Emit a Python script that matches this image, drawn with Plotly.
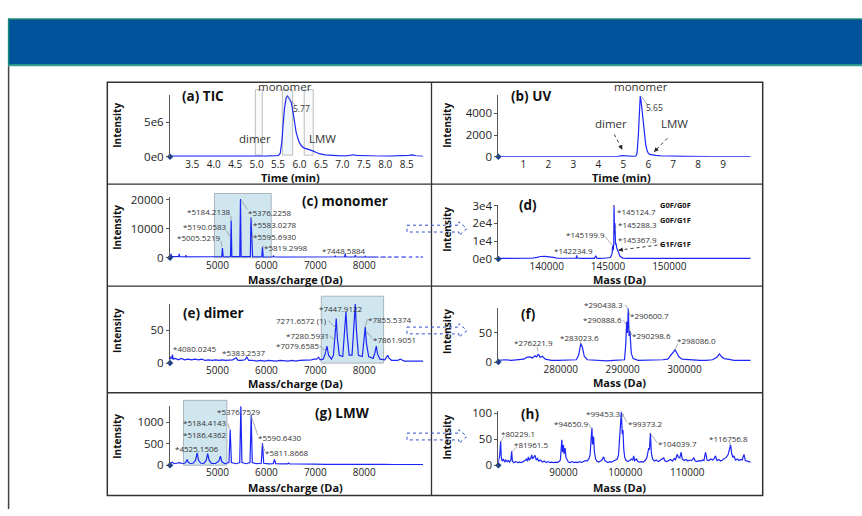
import plotly.graph_objects as go

W, H = 862, 516

# ---------------- data ----------------
# (a) TIC chromatogram: time (min), intensity
tic_time = [2.98, 3.2, 3.5, 3.8, 4.1, 4.4, 4.7, 5.0, 5.2, 5.4, 5.5, 5.55, 5.59, 5.62, 5.65, 5.69,
            5.72, 5.76, 5.81, 5.85, 5.88, 5.92, 5.96, 6.0, 6.05, 6.11, 6.19, 6.26, 6.31, 6.38,
            6.46, 6.6, 6.77, 6.95, 7.1, 7.18, 7.25, 7.32, 7.5, 7.8, 8.1, 8.4, 8.55, 8.63, 8.72, 8.88]
tic_intensity = [1.0e5, 0.9e5, 0.7e5, 0.7e5, 0.6e5, 0.7e5, 0.8e5, 1.0e5, 1.0e5, 1.2e5, 1.8e5, 0.5e6,
                 2.2e6, 4.8e6, 7.0e6, 8.5e6, 8.75e6, 8.4e6, 7.8e6, 6.4e6, 5.0e6, 3.6e6, 2.7e6, 2.0e6,
                 1.55e6, 1.25e6, 1.1e6, 1.0e6, 0.85e6, 0.65e6, 0.45e6, 0.28e6, 0.18e6, 0.14e6,
                 0.15e6, 0.25e6, 0.3e6, 0.2e6, 0.14e6, 0.12e6, 0.1e6, 0.12e6, 0.2e6, 0.28e6, 0.15e6, 0.08e6]

# (b) UV chromatogram
uv_time = [0.0, 0.5, 1.0, 1.5, 2.0, 2.5, 3.0, 3.5, 4.0, 4.5, 4.8, 4.95, 5.05, 5.2, 5.4, 5.5, 5.55,
           5.6, 5.64, 5.68, 5.72, 5.76, 5.8, 5.85, 5.9, 5.95, 6.0, 6.06, 6.15, 6.3, 6.5, 6.8, 7.5,
           8.5, 9.2, 9.4, 9.5, 9.8, 10.1]
uv_intensity = [30, 25, 25, 25, 25, 25, 25, 25, 25, 30, 40, 110, 90, 40, 35, 60, 300, 1800, 4300,
                5600, 5000, 4000, 3100, 2000, 1100, 600, 330, 220, 170, 130, 80, 50, 35, 30, 35,
                90, 50, 30, 30]

# (c) monomer m/z spectrum (None = gap in the trace)
mono_mz = [4030, 4045, 4053, 4062, 4120, 4207, 4217, 4227, 4300, 4345, 4354, 4363, 4450, 4550, 4650,
           4750, 4850, 4950, 5040, 5088, 5102, 5116, 5200, 5266, 5280, 5294, 5380, 5456, 5470, 5484,
           5580, 5672, 5685, 5700, 5718, 5800, 5906, 5920, 5934, 6040, 6132, 6145, 6158, 6300, 6450,
           6600, 6750, 6900, 7050, 7395, 7407, 7419, 7500, 7599, 7611, 7623, 7720, 7804, 7816, 7828,
           7930, 8008, 8020, 8032, 8150, 8290, None, 8330, 8440, None, 8480, 8560, None, 8610, 8700,
           None, 8760, 8850, None, 8910, 8980, None, 9050, 9110, None, 9150, 9200]
mono_int = [300, 500, 1300, 400, 350, 400, 1300, 350, 300, 300, 900, 300, 280, 260, 280,
            250, 260, 280, 300, 400, 3300, 400, 300, 400, 12900, 400, 350, 400, 20300, 400,
            350, 400, 13900, 6500, 350, 300, 350, 3800, 300, 250, 250, 600, 250, 220, 220,
            200, 200, 220, 220, 250, 700, 250, 240, 260, 1300, 260, 230, 240, 900, 240,
            220, 220, 500, 220, 200, 200, None, 200, 200, None, 200, 200, None, 200, 200,
            None, 200, 200, None, 200, 200, None, 200, 200, None, 200, 200]

# (d) monomer deconvoluted mass spectrum
mono_mass = [136050, 137000, 138000, 138800, 139200, 139500, 139860, 140200, 140540, 140900, 141500,
             142200, 142400, 142450, 142500, 143000, 143900, 144000, 144100, 144700, 145200, 145330,
             145380, 145430, 145470, 145490, 145530, 145570, 145610, 145650, 145710, 145780, 145850,
             145980, 146200, 146600, 147500, 148500, 149500, 150800, 151280, 151800, 153000, 154500,
             156640]
mono_mass_int = [300, 300, 300, 400, 900, 1400, 1500, 1300, 900, 400, 300, 300, 500, 2000, 400,
                 300, 300, 1800, 300, 400, 800, 3000, 7500, 5000, 9000, 30400, 14000, 20100, 8000,
                 9000, 6200, 5000, 3000, 1500, 500, 300, 300, 300, 300, 400, 600, 400, 300, 300, 300]

# (e) dimer m/z spectrum
dimer_mz = [4030, 4050, 4070, 4080, 4095, 4140, 4200, 4260, 4330, 4400, 4470, 4540, 4610, 4680, 4750,
            4820, 4890, 4960, 5030, 5100, 5170, 5240, 5310, 5383, 5420, 5490, 5560, 5600, 5640, 5720,
            5800, 5880, 5960, 6040, 6120, 6200, 6280, 6360, 6440, 6520, 6600, 6680, 6760, 6840, 6920,
            6980, 7030, 7066, 7100, 7160, 7200, 7237, 7270, 7330, 7370, 7400, 7427, 7450, 7490, 7560,
            7595, 7625, 7650, 7690, 7750, 7785, 7816, 7840, 7880, 7960, 7990, 8020, 8045, 8090, 8180,
            8215, 8245, 8270, 8320, 8420, 8455, 8477, 8500, 8560, 8680, 8715, 8736, 8760, 8820, 8900,
            9000, 9100, 9200]
dimer_int = [6, 9, 7, 13, 6, 7, 5, 7, 5, 6, 5, 6, 5, 6, 4,
             5, 4, 5, 4, 5, 4, 4, 5, 8, 4, 4, 5, 9, 4, 4,
             3, 4, 3, 4, 3, 3, 4, 3, 3, 4, 3, 4, 4, 5, 5,
             6, 6, 9, 5, 6, 14, 26, 12, 6, 12, 40, 68, 38, 12, 10,
             40, 78, 45, 12, 12, 50, 90, 50, 12, 10, 30, 55, 30, 10, 7,
             15, 26, 14, 6, 5, 9, 12, 8, 4, 4, 5, 6, 5, 3, 3,
             3, 3, 3]

# (f) dimer deconvoluted mass spectrum
dimer_mass = [269900, 271000, 272000, 273000, 274000, 274500, 275030, 275400, 275840, 276100, 276380,
              276650, 277000, 277500, 278500, 279500, 280500, 281500, 282500, 282900, 283240, 283500,
              283800, 284300, 285500, 286500, 287500, 288500, 289500, 290300, 290500, 290650, 290780,
              290910, 291050, 291180, 291400, 291700, 292500, 293500, 294500, 295500, 296500, 297300,
              297800, 298200, 298470, 298700, 299100, 299600, 300500, 301500, 302500, 303500, 304500,
              305200, 305650, 306000, 306400, 307000, 308000, 309000, 310700]
dimer_mass_int = [3, 4, 3, 4, 5, 8, 9, 7, 11, 9, 14, 8, 10, 5, 3, 3, 3, 3, 4, 12, 32, 25, 10, 4, 3,
                  3, 2, 3, 3, 4, 30, 69, 50, 92, 45, 53, 15, 6, 3, 3, 3, 3, 4, 5, 12, 16, 21, 17, 9,
                  5, 4, 3, 3, 3, 4, 8, 14, 9, 6, 5, 3, 3, 3]

# (g) LMW m/z spectrum
lmw_mz = [4030, 4080, 4110, 4170, 4230, 4270, 4330, 4360, 4382, 4400, 4440, 4500, 4550, 4586, 4610,
          4660, 4720, 4770, 4800, 4830, 4880, 4960, 5030, 5060, 5090, 5150, 5235, 5260, 5285, 5380,
          5455, 5478, 5500, 5590, 5665, 5689, 5712, 5800, 5895, 5920, 5945, 6050, 6140, 6166, 6190,
          6300, 6430, 6452, 6475, 6600, 6700, 6850, 7000, 7200, 7400, 7600, 7800, 8000, 8200, 8400,
          8600, 8800, 9000, 9200]
lmw_int = [40, 70, 35, 45, 60, 40, 45, 80, 135, 70, 40, 45, 110, 286, 120,
           45, 40, 110, 270, 110, 40, 40, 100, 210, 80, 35, 60, 828, 60, 35,
           60, 1370, 60, 35, 60, 1166, 60, 35, 45, 512, 45, 30, 35, 135, 35,
           30, 30, 50, 28, 28, 30, 26, 25, 22, 24, 20, 22, 20, 18, 18,
           17, 16, 15, 15]

# (h) LMW deconvoluted mass spectrum
lmw_mass = [79470, 79700, 79850, 79950, 80100, 80300, 80500, 80700, 80900, 81100, 81300, 81500, 81630,
            81750, 82000, 82300, 82600, 82900, 83200, 83500, 83800, 84000, 84200, 84330, 84500, 84700,
            84880, 85000, 85200, 85410, 85600, 85800, 86000, 86300, 86600, 86900, 87200, 87500, 87800,
            88100, 88400, 88700, 89000, 89300, 89500, 89650, 89740, 89850, 90000, 90100, 90270, 90400,
            90600, 90800, 91100, 91400, 91700, 92000, 92300, 92600, 92900, 93200, 93500, 93800, 94100,
            94300, 94450, 94600, 94700, 94870, 95000, 95200, 95400, 95700, 96000, 96200, 96490, 96700,
            96900, 97200, 97500, 97800, 98100, 98400, 98700, 98900, 99050, 99190, 99350, 99500, 99620,
            99750, 99900, 100100, 100400, 100700, 101000, 101200, 101350, 101500, 101800, 102000,
            102300, 102600, 102900, 103200, 103500, 103650, 103780, 103900, 104050, 104200, 104400,
            104700, 105000, 105300, 105600, 105900, 106210, 106400, 106700, 107000, 107300, 107600,
            107900, 108100, 108370, 108600, 108800, 109020, 109200, 109500, 109800, 110100, 110400,
            110700, 111060, 111300, 111600, 111900, 112200, 112500, 112700, 112960, 113200, 113500,
            113800, 114100, 114300, 114580, 114800, 115100, 115400, 115700, 116000, 116300, 116600,
            116800, 117010, 117200, 117400, 117550, 117800, 118100, 118400, 118700, 118900, 119170,
            119400, 119700, 120000, 120260]
lmw_mass_int = [5, 20, 46, 15, 8, 12, 6, 10, 7, 9, 6, 10, 27,
                8, 5, 7, 5, 6, 5, 7, 9, 12, 8, 16, 10, 13,
                20, 12, 15, 19, 10, 13, 8, 10, 6, 8, 5, 7, 5,
                6, 5, 6, 5, 7, 10, 30, 49, 25, 39, 22, 33, 15,
                10, 6, 5, 7, 5, 6, 5, 7, 5, 7, 9, 8, 12,
                20, 45, 72, 40, 55, 25, 12, 8, 6, 8, 10, 16, 9,
                7, 5, 7, 6, 8, 10, 12, 20, 45, 80, 103, 60, 68,
                30, 15, 10, 7, 9, 12, 10, 18, 9, 12, 7,
                6, 7, 6, 9, 15, 25, 33, 30, 62, 25, 12,
                8, 10, 7, 9, 12, 14, 8, 7, 9, 11, 8,
                13, 10, 21, 15, 14, 25, 12, 9, 11, 8, 10,
                9, 14, 8, 7, 9, 8, 10, 9, 25, 10, 9,
                12, 10, 12, 18, 9, 11, 8, 10, 12, 15, 20,
                28, 39, 22, 15, 18, 10, 12, 9, 11, 10, 21,
                9, 8, 7, 6]

# shaded fraction windows
tic_windows = [(4.97, 5.13), (5.60, 5.84), (6.11, 6.32)]
mz_windows = {"c": (4939, 6098), "e": (7121, 8395), "g": (4305, 5192)}

# tick values / labels
tick_a_x = [3.5, 4.0, 4.5, 5.0, 5.5, 6.0, 6.5, 7.0, 7.5, 8.0, 8.5]
tick_a_y, text_a_y = [0, 5e6], ["0e0", "5e6"]
tick_b_x = [1, 2, 3, 4, 5, 6, 7, 8, 9]
tick_b_y = [0, 2000, 4000]
tick_mz_x = [5000, 6000, 7000, 8000]
tick_c_y = [0, 10000, 20000]
tick_d_x = [140000, 145000, 150000]
tick_d_y, text_d_y = [0, 1e4, 2e4, 3e4], ["0e0", "1e4", "2e4", "3e4"]
tick_e_y = [0, 50]
tick_f_x = [280000, 290000, 300000]
tick_f_y = [0, 50]
tick_g_y = [0, 500, 1000]
tick_h_x = [90000, 100000, 110000]
tick_h_y = [0, 50, 100]

# ---------------- helpers ----------------
def PX(x):
    return x / W


def PY(y):
    return 1 - y / H


FONT = "Open Sans"
LINE = "rgb(28,38,245)"

panels = [
    dict(x=tic_time, y=tic_intensity, xd=(170, 423), yd=(90, 154), xr=[2.98, 8.88], yr=[0, 8.96e6],
         xt=tick_a_x, xtt=["%.1f" % v for v in tick_a_x], yt=tick_a_y, ytt=text_a_y),
    dict(x=uv_time, y=uv_intensity, xd=(498.3, 750.7), yd=(90, 154), xr=[0, 10.1], yr=[0, 5730],
         xt=tick_b_x, xtt=[str(v) for v in tick_b_x], yt=tick_b_y, ytt=[str(v) for v in tick_b_y]),
    dict(x=mono_mz, y=mono_int, xd=(170, 423), yd=(195, 257.7), xr=[4030, 9200], yr=[0, 21100],
         xt=tick_mz_x, xtt=[str(v) for v in tick_mz_x], yt=tick_c_y, ytt=[str(v) for v in tick_c_y]),
    dict(x=mono_mass, y=mono_mass_int, xd=(498.3, 750.7), yd=(203.3, 259), xr=[136050, 156640],
         yr=[0, 30500], xt=tick_d_x, xtt=[str(v) for v in tick_d_x], yt=tick_d_y, ytt=text_d_y),
    dict(x=dimer_mz, y=dimer_int, xd=(170, 423), yd=(305, 366), xr=[4030, 9200], yr=[0, 90.6],
         xt=tick_mz_x, xtt=[str(v) for v in tick_mz_x], yt=tick_e_y, ytt=[str(v) for v in tick_e_y]),
    dict(x=dimer_mass, y=dimer_mass_int, xd=(498.3, 750.7), yd=(309.3, 365), xr=[269900, 310700],
         yr=[0, 93], xt=tick_f_x, xtt=[str(v) for v in tick_f_x], yt=tick_f_y,
         ytt=[str(v) for v in tick_f_y]),
    dict(x=lmw_mz, y=lmw_int, xd=(170, 423), yd=(410, 471), xr=[4030, 9200], yr=[0, 1380],
         xt=tick_mz_x, xtt=[str(v) for v in tick_mz_x], yt=tick_g_y, ytt=[str(v) for v in tick_g_y]),
    dict(x=lmw_mass, y=lmw_mass_int, xd=(498.3, 750.7), yd=(415, 471), xr=[79470, 120260],
         yr=[0, 105], xt=tick_h_x, xtt=[str(v) for v in tick_h_x], yt=tick_h_y,
         ytt=[str(v) for v in tick_h_y]),
]

fig = go.Figure()
layout = dict(width=W, height=H, margin=dict(l=0, r=0, t=0, b=0), showlegend=False,
              paper_bgcolor="white", plot_bgcolor="rgba(0,0,0,0)",
              font=dict(family=FONT, color="#222"))

for i, p in enumerate(panels):
    n = "" if i == 0 else str(i + 1)
    xa, ya = "x" + n, "y" + n
    fig.add_trace(go.Scatter(x=p["x"], y=p["y"], mode="lines", xaxis=xa, yaxis=ya,
                             line=dict(color=LINE, width=1.2), connectgaps=False, hoverinfo="skip"))
    # origin marker
    fig.add_trace(go.Scatter(x=[p["xr"][0]], y=[0], mode="markers", xaxis=xa, yaxis=ya,
                             marker=dict(symbol="diamond", size=5, color="#1c3f8a"),
                             cliponaxis=False, hoverinfo="skip"))
    layout["xaxis" + n] = dict(domain=[PX(p["xd"][0]), PX(p["xd"][1])], range=p["xr"],
                               anchor=ya, showgrid=False, zeroline=False, showline=False,
                               ticks="", tickvals=p["xt"], ticktext=p["xtt"],
                               tickfont=dict(size=10, color="#222", family=FONT))
    layout["yaxis" + n] = dict(domain=[PY(p["yd"][1]), PY(p["yd"][0])], range=p["yr"],
                               anchor=xa, showgrid=False, zeroline=False, showline=True,
                               linecolor="#555", linewidth=1, ticks="outside", ticklen=3,
                               tickcolor="#555", tickvals=p["yt"], ticktext=p["ytt"],
                               tickfont=dict(size=11.5, color="#222", family=FONT))

shapes = []
annotations = []

# header band
shapes.append(dict(type="rect", xref="paper", yref="paper", x0=PX(8), x1=PX(862), y0=PY(60.5),
                   y1=PY(12), fillcolor="#00529b", line=dict(width=0), layer="below"))
shapes.append(dict(type="line", xref="paper", yref="paper", x0=PX(8), x1=PX(862), y0=PY(12.5),
                   y1=PY(12.5), line=dict(color="#0f7d70", width=1.5)))
shapes.append(dict(type="line", xref="paper", yref="paper", x0=PX(8), x1=PX(862), y0=PY(60),
                   y1=PY(60), line=dict(color="#33a690", width=2)))
shapes.append(dict(type="line", xref="paper", yref="paper", x0=PX(8.6), x1=PX(8.6), y0=PY(12),
                   y1=PY(60), line=dict(color="#1a8a78", width=1.5)))
shapes.append(dict(type="line", xref="paper", yref="paper", x0=PX(8.6), x1=PX(8.6), y0=PY(61),
                   y1=PY(516), line=dict(color="#444", width=1.5)))

# figure frame and grid
shapes.append(dict(type="rect", xref="paper", yref="paper", x0=PX(107.3), x1=PX(762.7),
                   y0=PY(502), y1=PY(77.3), line=dict(color="#333", width=1.5)))
shapes.append(dict(type="line", xref="paper", yref="paper", x0=PX(431.5), x1=PX(431.5),
                   y0=PY(502), y1=PY(77.3), line=dict(color="#333", width=1.3)))
for yy in (182, 287, 396.5):
    shapes.append(dict(type="line", xref="paper", yref="paper", x0=PX(107.3), x1=PX(762.7),
                       y0=PY(yy), y1=PY(yy), line=dict(color="#333", width=1.3)))

# fraction windows in (a)
for k, (t0, t1) in enumerate(tic_windows):
    shapes.append(dict(type="rect", xref="x", yref="paper", x0=t0, x1=t1, y0=PY(152.3), y1=PY(85),
                       fillcolor="rgba(225,235,245,0.45)" if k == 1 else "rgba(240,242,245,0.4)",
                       line=dict(color="#bdbdbd", width=1), layer="below"))
# shaded m/z windows
for key, xa in (("c", "x3"), ("e", "x5"), ("g", "x7")):
    top, bot = {"c": (191.7, 257.7), "e": (297.3, 366), "g": (404.3, 471)}[key]
    m0, m1 = mz_windows[key]
    shapes.append(dict(type="rect", xref=xa, yref="paper", x0=m0, x1=m1, y0=PY(bot), y1=PY(top),
                       fillcolor="#cfe6ef", line=dict(color="#a9b4bd", width=1), layer="below"))

# dashed block arrows between columns
for yc in (227.8, 332.5, 441.5):
    pts = [(407, yc - 3.5), (459, yc - 3.5), (459, yc - 7), (467, yc), (459, yc + 7),
           (459, yc + 3.5), (407, yc + 3.5)]
    path = "M " + " L ".join("%.5f,%.5f" % (PX(a), PY(b)) for a, b in pts) + " Z"
    shapes.append(dict(type="path", xref="paper", yref="paper", path=path,
                       line=dict(color="#3050c8", width=1, dash="dot")))

# leader lines (px coords)
leaders = [
    (286.7, 91.7, 295, 100.5), (641, 91.7, 647.3, 100.5),
    (231, 214.5, 231, 219), (226.5, 230, 230, 236), (221, 240.5, 222, 246.5),
    (247.5, 208, 241, 198.5), (252, 220.5, 251, 217), (252.5, 234, 251.5, 240), (264, 245, 262.5, 247.5),
    (615, 207, 614, 203.5), (616, 225.5, 615, 230), (605, 236, 612.5, 245),
    (328.5, 322.5, 336, 330), (329.5, 338, 335, 343), (319.5, 348, 326, 354),
    (367.5, 321, 365, 329), (372.5, 341, 367, 334),
    (625, 306, 628.5, 311), (630, 317, 628.5, 312), (623.3, 322, 626.5, 327),
    (631.7, 337, 629, 330), (580, 343.5, 581, 347), (537, 349, 538, 354), (678, 346, 675, 352),
    (228, 428, 229.5, 434), (257.7, 440, 251, 420), (265, 457, 262.5, 450),
    (624, 418, 621, 423), (627, 427, 621.5, 417), (588.3, 428, 591.7, 434), (504, 441, 500.7, 447),
    (517, 452, 512, 457), (657.3, 448, 650, 438), (730, 447, 730, 451),
]
for x0, y0, x1, y1 in leaders:
    shapes.append(dict(type="line", xref="paper", yref="paper", x0=PX(x0), y0=PY(y0), x1=PX(x1),
                       y1=PY(y1), line=dict(color="#8a8a8a", width=0.7)))

# dashed pointer arrows (px coords: from, to)
pointers = [((614.3, 131), (622.3, 146.7)), ((667.3, 135), (654, 149)), ((663.3, 244), (618.3, 250))]
for (x0, y0), (x1, y1) in pointers:
    shapes.append(dict(type="line", xref="paper", yref="paper", x0=PX(x0), y0=PY(y0), x1=PX(x1),
                       y1=PY(y1), line=dict(color="#222", width=0.9, dash="dot")))
    dx, dy = x0 - x1, y0 - y1
    L = (dx * dx + dy * dy) ** 0.5
    annotations.append(dict(xref="paper", yref="paper", x=PX(x1), y=PY(y1), text="", showarrow=True,
                            ax=dx / L * 6, ay=dy / L * 6, arrowhead=2, arrowsize=1, arrowwidth=0.9,
                            arrowcolor="#222", standoff=0))

# text labels: (text, x_px, y_px, size, bold)
labels = [
    ("(a) TIC", 202.5, 91, 13.5, True), ("monomer", 285, 81.5, 11.5, False),
    ("dimer", 255, 135.5, 11.5, False), ("LMW", 322, 135.5, 11.5, False), ("5.77", 301, 104, 8.5, False),
    ("(b) UV", 531, 91, 13.5, True), ("monomer", 641, 81.5, 11.5, False), ("5.65", 654.7, 103.5, 8.5, False),
    ("dimer", 611, 120, 11.5, False), ("LMW", 674, 120, 11.5, False),
    ("(c) monomer", 344.5, 199, 13.5, True), ("*5184.2138", 209, 210, 8, False),
    ("*5190.0583", 205, 226, 8, False), ("*5005.5219", 199, 237, 8, False),
    ("*5376.2258", 269.7, 211, 8, False), ("*5583.0278", 274.7, 223.7, 8, False),
    ("*5595.6930", 275, 235.8, 8, False), ("*5819.2998", 286.3, 246.7, 8, False),
    ("*7448.5884", 343.7, 250.8, 8, False),
    ("(d)", 528, 204, 13.5, True), ("*145124.7", 636, 209.7, 8, False), ("*145288.3", 637, 223.3, 8, False),
    ("*145199.9", 585, 234, 8, False), ("*145367.9", 637.5, 239, 8, False),
    ("*142234.9", 573.7, 250.8, 8, False), ("G0F/G0F", 675.8, 203.8, 7.5, True),
    ("G0F/G1F", 675.8, 218.8, 7.5, True), ("G1F/G1F", 675.8, 243.8, 7.5, True),
    ("(e) dimer", 213, 314.5, 13.5, True), ("*7447.9122", 341.3, 310.3, 8, False),
    ("7271.6572 (1)", 301.7, 322.5, 8, False), ("*7280.5931", 307.7, 338, 8, False),
    ("*7079.6585", 297.5, 348, 8, False), ("*7855.5374", 389.7, 320.8, 8, False),
    ("*7861.9051", 394.7, 341.3, 8, False), ("*4080.0245", 195.3, 350.7, 8, False),
    ("*5383.2537", 244.2, 355, 8, False),
    ("(f)", 528.3, 315.8, 13.5, True), ("*290438.3", 603.8, 306, 8, False),
    ("*290600.7", 649.7, 317, 8, False), ("*290888.6", 602, 321.7, 8, False),
    ("*290298.6", 651.7, 337.3, 8, False), ("*283023.6", 579.7, 339.7, 8, False),
    ("*276221.9", 533.7, 345.3, 8, False), ("*298086.0", 696, 343, 8, False),
    ("(g) LMW", 342.8, 417.5, 13.5, True), ("*5376.7529", 239.2, 416, 8, False),
    ("*5184.4143", 204.7, 427.5, 8, False), ("*5186.4362", 204.7, 439.7, 8, False),
    ("*4525.1506", 197, 453.7, 8, False), ("*5590.6430", 280, 442, 8, False),
    ("*5811.8668", 287.2, 458, 8, False),
    ("(h)", 529.5, 418, 13.5, True), ("*99453.3", 603.3, 417.7, 8, False),
    ("*99373.2", 645.3, 427.7, 8, False), ("*94650.9", 570.8, 427.7, 8, False),
    ("*80229.1", 518.3, 438.3, 8, False), ("*81961.5", 531.3, 449.2, 8, False),
    ("*104039.7", 677, 448.7, 8, False), ("*116756.8", 728, 443.7, 8, False),
]
for text, x, y, size, bold in labels:
    annotations.append(dict(xref="paper", yref="paper", x=PX(x), y=PY(y), showarrow=False,
                            text="<b>%s</b>" % text if bold else text, xanchor="center", yanchor="middle",
                            font=dict(size=size, color="#111" if bold else "#333", family=FONT)))

# axis titles
xtitles = [("Time (min)", 290.5, 175), ("Time (min)", 621.5, 175),
           ("Mass/charge (Da)", 295, 280), ("Mass (Da)", 619, 280),
           ("Mass/charge (Da)", 295.3, 387.5), ("Mass (Da)", 619, 386),
           ("Mass/charge (Da)", 295, 494.3), ("Mass (Da)", 619, 493.5)]
for text, x, y in xtitles:
    annotations.append(dict(xref="paper", yref="paper", x=PX(x), y=PY(y), showarrow=False,
                            text="<b>%s</b>" % text, xanchor="center", yanchor="middle",
                            font=dict(size=11, color="#111", family=FONT)))
ytitles = [(117, 122), (447, 122), (117, 227), (447, 229), (117, 333), (447, 334), (117, 441.7), (447, 442.5)]
for x, y in ytitles:
    annotations.append(dict(xref="paper", yref="paper", x=PX(x), y=PY(y), showarrow=False,
                            text="<b>Intensity</b>", textangle=-90, xanchor="center", yanchor="middle",
                            font=dict(size=10, color="#111", family=FONT)))

layout["shapes"] = shapes
layout["annotations"] = annotations
fig.update_layout(**layout)
fig.write_html("out.html")
